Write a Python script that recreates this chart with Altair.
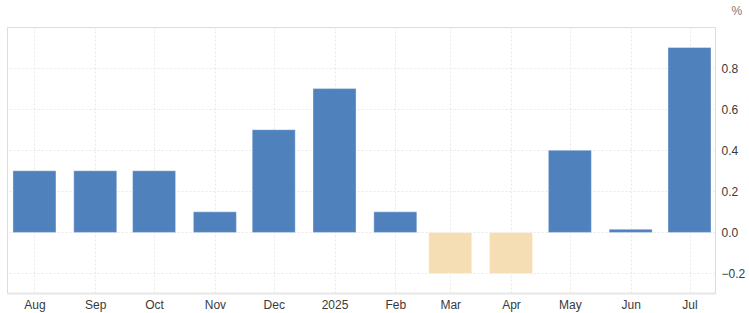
import altair as alt
import pandas as pd

months = ["2024-08-01", "2024-09-01", "2024-10-01", "2024-11-01", "2024-12-01", "2025-01-01",
          "2025-02-01", "2025-03-01", "2025-04-01", "2025-05-01", "2025-06-01", "2025-07-01"]
values = [0.3, 0.3, 0.3, 0.1, 0.5, 0.7, 0.1, -0.2, -0.2, 0.4, 0.015, 0.9]
y_ticks = [-0.2, 0.0, 0.2, 0.4, 0.6, 0.8]
x_range = ["2024-07-18", "2025-07-14"]


def to_ms(s):
    return int(pd.Timestamp(s, tz="UTC").value // 10**6)


df = pd.DataFrame({"date": [to_ms(m) for m in months], "value": values})
df["sign"] = ["neg" if v < 0 else "pos" for v in values]

tick_ms = [to_ms(m) for m in months]

label_expr = ("utcFormat(datum.value, '%m') == '01' ? utcFormat(datum.value, '%Y') "
              ": utcFormat(datum.value, '%b')")

chart = alt.Chart(df).mark_bar(size=43, stroke="white", strokeWidth=0.6, strokeOpacity=0.6).encode(
    x=alt.X("date:T",
            scale=alt.Scale(type="utc", domain=[to_ms(d) for d in x_range], padding=0),
            axis=alt.Axis(values=tick_ms, labelExpr=label_expr, title=None, ticks=False,
                          labelPadding=6, labelFontSize=12, labelColor="#3a3a3a",
                          labelFont="Liberation Sans",
                          grid=True, gridColor="#e8e8e8", gridDash=[2, 2],
                          domain=True, domainColor="#e6e6e6", domainWidth=2)),
    y=alt.Y("value:Q",
            scale=alt.Scale(domain=[-0.295, 1.0], nice=False, zero=False, padding=0),
            axis=alt.Axis(orient="right", values=y_ticks, format=".1f", ticks=False,
                          labelPadding=6, labelFontSize=12, labelColor="#3a3a3a",
                          labelFont="Liberation Sans",
                          grid=True, gridColor="#e8e8e8", gridDash=[2, 2],
                          domain=False,
                          title="%", titleAngle=0, titleAlign="left", titleBaseline="middle",
                          titleX=16, titleY=-17, titleFontSize=12, titleFontWeight="normal",
                          titleColor="#777", titleFont="Liberation Sans")),
    color=alt.Color("sign:N",
                    scale=alt.Scale(domain=["pos", "neg"], range=["#4f81bd", "#f5deb3"]),
                    legend=None),
).properties(
    width=708, height=266,
    autosize=alt.AutoSizeParams(type="none"),
    padding={"left": 7, "top": 27, "right": 34, "bottom": 20},
).configure_view(stroke="#ececec", strokeWidth=1).configure(background="white")

chart.save("out.html", embed_options={"renderer": "svg", "actions": False})
